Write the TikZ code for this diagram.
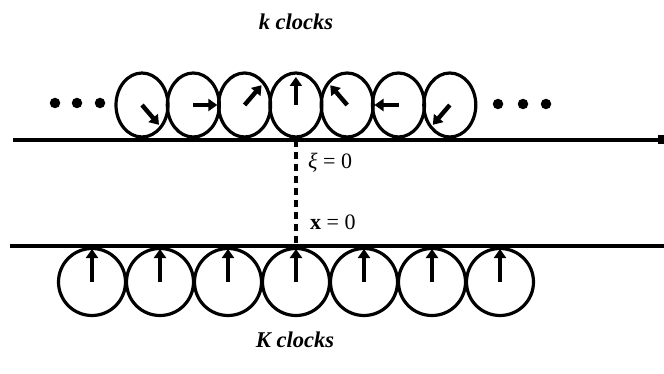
\documentclass[tikz,border=0pt]{standalone}
\usepackage{fontspec}
\setmainfont{Liberation Serif}
\usetikzlibrary{arrows.meta,shapes.geometric}
\begin{document}
\begin{tikzpicture}[x=1pt,y=-1pt,
  axis/.style={line width=4pt},
  clockface/.style={draw,line width=3.2pt,inner sep=0pt},
  hand/.style={line width=4.4pt,-{Triangle[length=9pt,width=12pt]}},
  dotmark/.style={circle,fill,inner sep=0pt,minimum size=10.5pt},
  title/.style={font=\fontsize{22.5}{26}\selectfont\bfseries\itshape},
  lab/.style={font=\fontsize{22}{26}\selectfont,anchor=west,inner sep=0pt}]
\useasboundingbox (0,0) rectangle (664,374);
% axes
\coordinate (tl) at (13,140);
\coordinate (tr) at (664,140);
\coordinate (bl) at (10,246);
\coordinate (br) at (664,246);
\draw[axis,-{Square[length=6pt,width=9pt]}] (tl) -- (tr);
\draw[axis] (bl) -- (br);
% top clocks (moving, k)
\foreach \i/\a in {1/-45,2/0,3/45,4/90,5/135,6/180,7/225}{
  \pgfmathsetmacro{\cx}{142+51.3*(\i-1)}
  \node[clockface,ellipse,minimum width=52pt,minimum height=64pt] (k\i) at (\cx,105) {};
  \draw[hand] (k\i.center) -- ++({24*cos(\a)},{-28*sin(\a)});
}
% bottom clocks (rest, K)
\foreach \i in {1,...,7}{
  \pgfmathsetmacro{\cx}{92+68*(\i-1)}
  \node[clockface,circle,minimum size=67pt] (K\i) at (\cx,282) {};
  \draw[hand] (K\i.center) -- ++(0,-33);
}
% dots
\foreach \j/\x in {1/55,2/77,3/100}{\node[dotmark] (ld\j) at (\x,103) {};}
\foreach \j/\x in {1/498,2/523,3/546}{\node[dotmark] (rd\j) at (\x,104) {};}
% dashed origin line
\coordinate (o1) at (296,140);
\coordinate (o2) at (296,246);
\draw[line width=3.2pt,dash pattern=on 7pt off 5pt] (o1) -- (o2);
\node[lab] (xi) at (308,163) {\textit{ξ} = 0};
\node[lab] (x0) at (310,222) {\textbf{x} = 0};
% titles
\node[title] (kt) at (296,22) {k clocks};
\node[title] (Kt) at (295,340) {K clocks};
\end{tikzpicture}
\end{document}
